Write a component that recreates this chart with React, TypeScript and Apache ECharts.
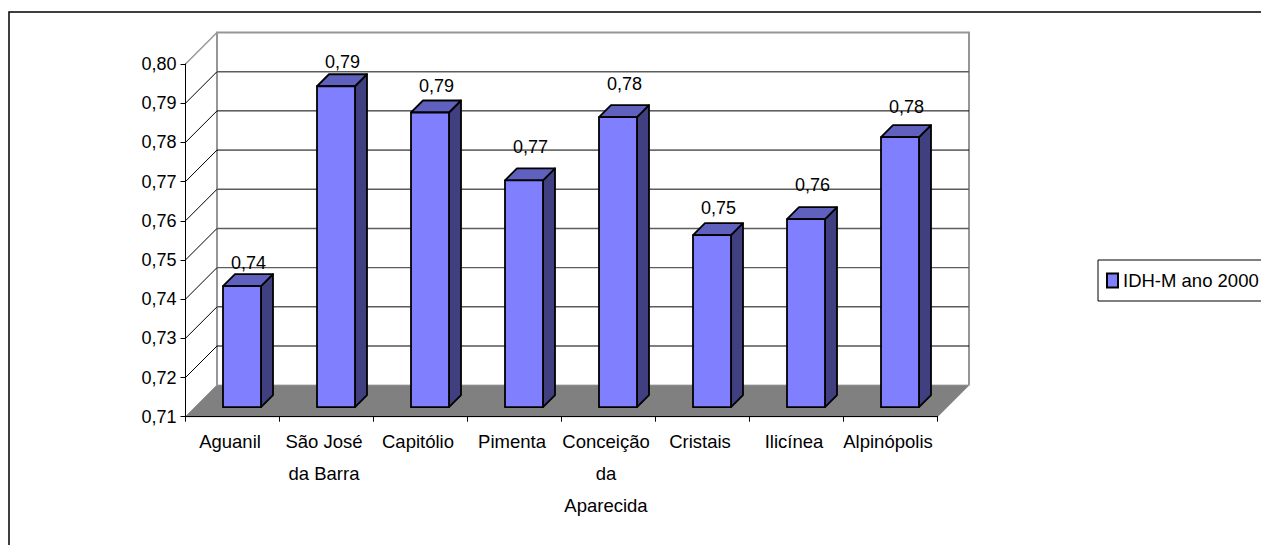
import React, { useEffect, useRef } from "react";
import * as echarts from "echarts";

const categories = [
  "Aguanil",
  "São José\nda Barra",
  "Capitólio",
  "Pimenta",
  "Conceição\nda\nAparecida",
  "Cristais",
  "Ilicínea",
  "Alpinópolis",
];
const seriesName = "IDH-M ano 2000";
const idhValues = [0.7409, 0.7919, 0.7852, 0.7679, 0.784, 0.7539, 0.758, 0.7789];
const wallLevels = [0.71, 0.72, 0.73, 0.74, 0.75, 0.76, 0.77, 0.78, 0.79, 0.8];
const blackLevels = [0.72, 0.77, 0.78];
const labelRise = [23, 24.5, 26, 33, 33, 27, 34, 30];

const FONT = '"Liberation Sans", Arial, sans-serif';
const FONT_SIZE = 18;
const WALL_DEPTH = 31.5;
const BAR_INSET = 9.5;
const BAR_DEPTH = 12;
const BAR_WIDTH = 38;
const WALL_GRAY = "#969696";
const comma = (v: number) => v.toFixed(2).replace(".", ",");
const isBlack = (v: number) => blackLevels.some((b) => Math.abs(b - v) < 1e-6);

export default function App() {
  const ref = useRef<HTMLDivElement>(null);
  useEffect(() => {
    document.body.style.margin = "0";
    const chart = echarts.init(ref.current!, undefined, { renderer: "svg" });

    const renderWalls = (params: any, api: any) => {
      const c = params.coordSys;
      const v = api.value(1);
      const y = api.coord([0, v])[1];
      const left = c.x;
      const right = c.x + c.width;
      const isTop = v >= 0.8 - 1e-9;
      const isBottom = v <= 0.71 + 1e-9;
      const children: any[] = [];
      if (isBottom) {
        children.push({
          type: "polygon",
          shape: {
            points: [
              [left, y],
              [left + WALL_DEPTH, y - WALL_DEPTH],
              [right + WALL_DEPTH, y - WALL_DEPTH],
              [right, y],
            ],
          },
          style: { fill: "#808080", stroke: "#808080", lineWidth: 1 },
        });
        children.push({
          type: "polyline",
          shape: {
            points: [
              [left + WALL_DEPTH, y - WALL_DEPTH],
              [left + WALL_DEPTH, c.y - WALL_DEPTH],
              [right + WALL_DEPTH, c.y - WALL_DEPTH],
              [right + WALL_DEPTH, y - WALL_DEPTH],
            ],
          },
          style: { fill: "none", stroke: WALL_GRAY, lineWidth: 2 },
        });
      } else {
        children.push({
          type: "line",
          shape: { x1: left, y1: y, x2: left + WALL_DEPTH, y2: y - WALL_DEPTH },
          style: { stroke: isTop ? WALL_GRAY : "#000", lineWidth: isTop ? 1.5 : 1 },
        });
        if (!isTop) {
          const black = isBlack(v);
          children.push({
            type: "line",
            shape: {
              x1: left + WALL_DEPTH,
              y1: y - WALL_DEPTH,
              x2: right + WALL_DEPTH,
              y2: y - WALL_DEPTH,
            },
            style: { stroke: black ? "#000" : "#5c5c5c", lineWidth: black ? 1 : 1.4 },
          });
        }
      }
      return { type: "group", children };
    };

    const renderBar = (params: any, api: any) => {
      const i = api.value(0);
      const cx = api.coord([i, 0.71])[0] + BAR_INSET;
      const base = api.coord([i, 0.71])[1] - BAR_INSET;
      const topY = api.coord([i, api.value(1)])[1] - BAR_INSET;
      const x0 = cx - BAR_WIDTH / 2;
      const x1 = cx + BAR_WIDTH / 2;
      const edge = { stroke: "#000", lineWidth: 1.8, lineJoin: "round" };
      return {
        type: "group",
        children: [
          {
            type: "polygon",
            shape: {
              points: [
                [x1, topY],
                [x1 + BAR_DEPTH, topY - BAR_DEPTH],
                [x1 + BAR_DEPTH, base - BAR_DEPTH],
                [x1, base],
              ],
            },
            style: { fill: "#404080", ...edge },
          },
          {
            type: "polygon",
            shape: {
              points: [
                [x0, topY],
                [x0 + BAR_DEPTH, topY - BAR_DEPTH],
                [x1 + BAR_DEPTH, topY - BAR_DEPTH],
                [x1, topY],
              ],
            },
            style: { fill: "#6060BF", ...edge },
          },
          {
            type: "rect",
            shape: { x: x0, y: topY, width: BAR_WIDTH, height: base - topY },
            style: { fill: "#8080FF", ...edge },
          },
          {
            type: "text",
            style: {
              text: comma(api.value(1)),
              x: cx + 6.5,
              y: topY - labelRise[i],
              align: "center",
              verticalAlign: "middle",
              fontFamily: FONT,
              fontSize: FONT_SIZE,
              fill: "#000",
            },
          },
        ],
      };
    };

    chart.setOption({
      animation: false,
      backgroundColor: "#fff",
      grid: { left: 185.5, right: 323.5, top: 64, bottom: 128.3, containLabel: false },
      legend: {
        data: [{ name: seriesName, icon: "rect" }],
        left: 1098,
        top: 260,
        orient: "horizontal",
        padding: [11, 12, 11, 8],
        itemWidth: 11,
        itemHeight: 14,
        itemGap: 0,
        borderColor: "#000",
        borderWidth: 1,
        backgroundColor: "#fff",
        textStyle: { fontFamily: FONT, fontSize: 18.5, color: "#000" },
      },
      xAxis: {
        type: "category",
        data: categories,
        axisLine: { lineStyle: { color: "#000", width: 1 } },
        axisTick: { show: true, length: 5, alignWithLabel: false, lineStyle: { color: "#000" } },
        axisLabel: {
          interval: 0,
          margin: 9,
          padding: [0, 5, 0, 0],
          fontFamily: FONT,
          fontSize: 18.5,
          lineHeight: 32,
          color: "#000",
        },
        splitLine: { show: false },
        z: 3,
      },
      yAxis: {
        type: "value",
        min: 0.71,
        max: 0.8,
        interval: 0.01,
        axisLine: { show: true, lineStyle: { color: "#000", width: 1 } },
        axisTick: { show: true, length: 5, lineStyle: { color: "#000" } },
        axisLabel: {
          margin: 9,
          fontFamily: FONT,
          fontSize: FONT_SIZE,
          color: "#000",
          formatter: (v: number) => comma(v),
        },
        splitLine: { show: false },
        z: 3,
      },
      graphic: [
        {
          type: "polyline",
          z: -1,
          silent: true,
          shape: {
            points: [
              [9, 545],
              [9, 12],
              [1261, 12],
            ],
          },
          style: { fill: "none", stroke: "#000", lineWidth: 1.5 },
        },
      ],
      series: [
        {
          type: "custom",
          name: "walls",
          z: 1,
          clip: false,
          silent: true,
          renderItem: renderWalls,
          encode: { x: 0, y: 1 },
          data: wallLevels.map((v) => [0, v]),
        },
        {
          type: "custom",
          name: seriesName,
          z: 5,
          clip: false,
          renderItem: renderBar,
          itemStyle: { color: "#8080FF", borderColor: "#000", borderWidth: 1.5 },
          encode: { x: 0, y: 1 },
          data: idhValues.map((v, i) => [i, v]),
        },
      ],
    });
    return () => chart.dispose();
  }, []);
  return <div ref={ref} style={{ width: 1261, height: 545 }} />;
}
